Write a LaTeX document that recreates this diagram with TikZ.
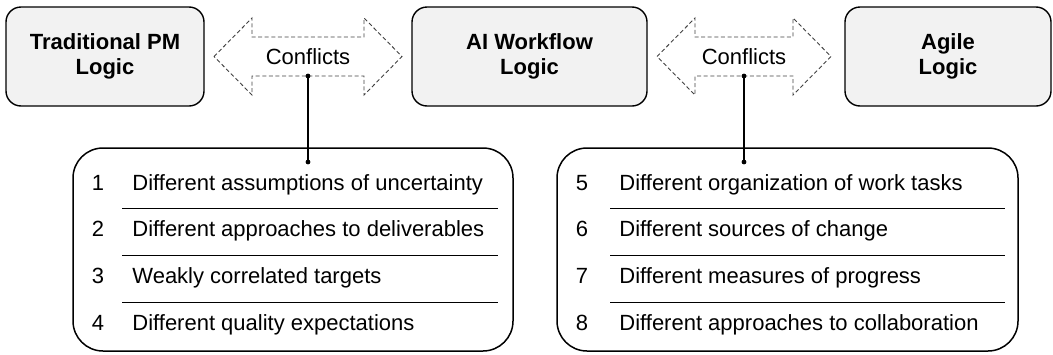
\documentclass[tikz,border=0pt]{standalone}
\usepackage{fontspec}
\setmainfont{Liberation Sans}
\usepackage{tikz}
\usetikzlibrary{positioning}
\definecolor{boxgray}{HTML}{F2F2F2}

\begin{document}
\begin{tikzpicture}[x=0.5pt, y=-0.5pt, font=\fontsize{11}{12.5}\selectfont,
  logic/.style={draw, line width=0.7pt, fill=boxgray, rounded corners=7.5pt, align=center, font=\fontsize{11}{12.5}\selectfont\bfseries, minimum height=49.5pt},
  dasharrow/.style={draw=black!75, line width=0.45pt, dash pattern=on 2pt off 1.3pt},
  listbox/.style={draw, line width=0.75pt, rounded corners=15pt},
  sep/.style={line width=0.5pt},
  link/.style={line width=0.75pt},
  num/.style={anchor=base, inner sep=0pt},
  item/.style={anchor=base west, inner sep=0pt}]
\useasboundingbox (0,0) rectangle (1053,354);
% top row
\node[logic, minimum width=99pt] (trad) at (105,56.5) {Traditional PM\\Logic};
\node[logic, minimum width=117.5pt] (ai) at (529.5,56.5) {AI Workflow\\Logic};
\node[logic, minimum width=103pt] (agile) at (948,56.5) {Agile\\Logic};
% conflict arrows
\draw[dasharrow] (214,56.5) -- (252,18) -- (252,37) -- (364,37) -- (364,18) -- (402,56.5) -- (364,95) -- (364,76) -- (252,76) -- (252,95) -- cycle;
\node (conf1) at (308,57) {Conflicts};
\draw[dasharrow] (657,56.5) -- (695,18) -- (695,37) -- (793,37) -- (793,18) -- (831,56.5) -- (793,95) -- (793,76) -- (695,76) -- (695,95) -- cycle;
\node (conf2) at (744,57) {Conflicts};
% lists
\node[listbox, minimum width=220pt, minimum height=101.5pt] (list1) at (293,249.5) {};
\node[listbox, minimum width=230.5pt, minimum height=101.5pt] (list2) at (787.5,249.5) {};
\coordinate (c1) at (308,76); \coordinate (l1) at (308,162);
\coordinate (c2) at (744,76); \coordinate (l2) at (744,162);
\draw[link] (c1) -- (l1); \fill (c1) circle (1.2pt); \fill (l1) circle (1.2pt);
\draw[link] (c2) -- (l2); \fill (c2) circle (1.2pt); \fill (l2) circle (1.2pt);
% left list
\node[num] (n1) at (98,190) {1}; \node[item] (t1) at (132,190) {Different assumptions of uncertainty};
\draw[sep] (122,208) -- (498,208);
\node[num] (n2) at (98,236) {2}; \node[item] (t2) at (132,236) {Different approaches to deliverables};
\draw[sep] (122,255) -- (498,255);
\node[num] (n3) at (98,283) {3}; \node[item] (t3) at (132,283) {Weakly correlated targets};
\draw[sep] (122,302) -- (498,302);
\node[num] (n4) at (98,330) {4}; \node[item] (t4) at (132,330) {Different quality expectations};
% right list
\node[num] (n5) at (582,190) {5}; \node[item] (t5) at (619,190) {Different organization of work tasks};
\draw[sep] (610,208) -- (1005,208);
\node[num] (n6) at (582,236) {6}; \node[item] (t6) at (619,236) {Different sources of change};
\draw[sep] (610,255) -- (1005,255);
\node[num] (n7) at (582,283) {7}; \node[item] (t7) at (619,283) {Different measures of progress};
\draw[sep] (610,302) -- (1005,302);
\node[num] (n8) at (582,330) {8}; \node[item] (t8) at (619,330) {Different approaches to collaboration};
\end{tikzpicture}
\end{document}
